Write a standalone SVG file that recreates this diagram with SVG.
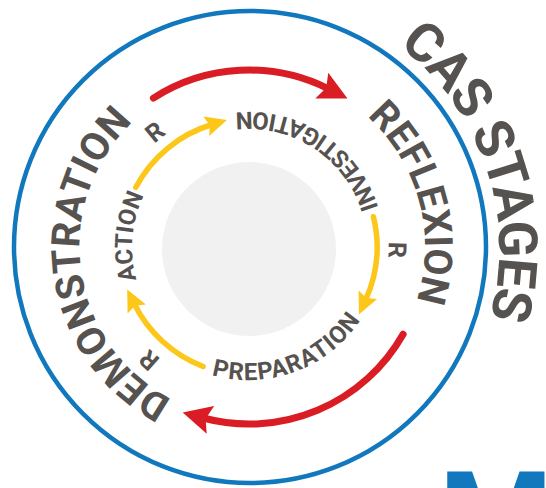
<svg xmlns="http://www.w3.org/2000/svg" width="546" height="488" viewBox="0 0 546 488">
<style>
.t{font-family:Roboto,"Liberation Sans",sans-serif;font-weight:700;fill:#55524f}
.big{font-size:54px;letter-spacing:-1.5px}
.mid{font-size:39px}
.sm{font-size:24px}
.r{font-size:25px;text-anchor:middle;dominant-baseline:central}
.red{fill:none;stroke:#da1c24;stroke-width:7;stroke-linecap:round}
.yel{fill:none;stroke:#fdc71a;stroke-width:5.5;stroke-linecap:round}
</style>
<defs>
<marker id="ahR" markerUnits="userSpaceOnUse" markerWidth="30" markerHeight="30" viewBox="0 -12 24 24" refX="6" refY="0" orient="auto">
<path d="M0,-11.5 L23,0 L0,11.5 L4,0 Z" fill="#da1c24"/>
</marker>
<marker id="ahY" markerUnits="userSpaceOnUse" markerWidth="24" markerHeight="24" viewBox="0 -10 20 20" refX="5" refY="0" orient="auto">
<path d="M0,-8.5 L18,0 L0,8.5 L3,0 Z" fill="#fdc71a"/>
</marker>
<path id="pCas" d="M166.9,4.6 A256,256 0 0 1 331.1,489.4"/>
<path id="pRef" d="M203.4,77 A176,176 0 0 1 294.6,417"/>
<path id="pDem" d="M273,417.3 A172,172 0 0 1 225,76.7"/>
<path id="pInv" d="M361.6,321.5 A135,135 0 0 0 136.4,172.5"/>
<path id="pPrep" d="M122.5,294.1 A135,135 0 0 0 375.5,199.9"/>
<path id="pAct" d="M238.5,366.5 A120,120 0 0 1 259.5,127.5"/>
</defs>
<rect width="546" height="488" fill="#ffffff"/>
<g id="ring">
<circle cx="250" cy="247" r="236" fill="none" stroke="#1278be" stroke-width="4.5"/>
<circle cx="249" cy="249" r="87" fill="#f1f1f1"/>
</g>
<g id="title"><text class="t big"><textPath href="#pCas" startOffset="50%" text-anchor="middle">CAS STAGES</textPath></text></g>
<g id="reflexion"><text class="t mid"><textPath href="#pRef" startOffset="50%" text-anchor="middle">REFLEXION</textPath></text></g>
<g id="demonstration"><text class="t mid" style="font-size:39.5px"><textPath href="#pDem" startOffset="50%" text-anchor="middle">DEMONSTRATION</textPath></text></g>
<g id="investigation"><text class="t sm" letter-spacing="0.8"><textPath href="#pInv" startOffset="50%" text-anchor="middle">INVESTIGATION</textPath></text></g>
<g id="preparation"><text class="t sm" letter-spacing="1"><textPath href="#pPrep" startOffset="50%" text-anchor="middle">PREPARATION</textPath></text></g>
<g id="action"><text class="t sm"><textPath href="#pAct" startOffset="50%" text-anchor="middle">ACTION</textPath></text></g>
<g id="r-labels">
<text class="t r" x="155" y="132" transform="rotate(320.7 155 132)">R</text>
<text class="t r" x="397" y="250" transform="rotate(91.2 397 250)">R</text>
<text class="t r" x="149" y="360" transform="rotate(221.5 149 360)">R</text>
</g>
<g id="connectors">
<path class="red" d="M153.4,98.1 A177,177 0 0 1 328.5,88.9" marker-end="url(#ahR)"/>
<path class="red" d="M403.1,334.2 A177,177 0 0 1 203.2,418" marker-end="url(#ahR)"/>
<path class="yel" d="M135.8,187.3 A128,128 0 0 1 212,124.5" marker-end="url(#ahY)"/>
<path class="yel" d="M373.4,216.7 A128,128 0 0 1 365.4,300.3" marker-end="url(#ahY)"/>
<path class="yel" d="M203.1,366.5 A128,128 0 0 1 134.1,303.5" marker-end="url(#ahY)"/>
</g>
<g id="logo"><text x="439" y="564" style="font-family:Roboto,'Liberation Sans',sans-serif;font-weight:700;font-size:130px;fill:#1278be">M</text></g>
</svg>
